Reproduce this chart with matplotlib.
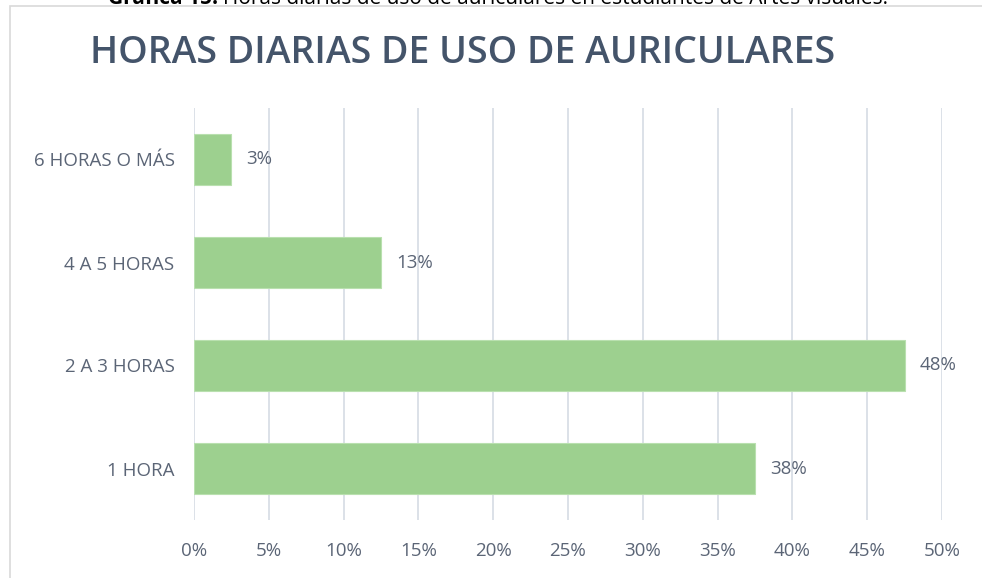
import matplotlib.pyplot as plt
from matplotlib.patches import Rectangle
from matplotlib.ticker import PercentFormatter

# Data (bottom to top)
categories = ["1 HORA", "2 A 3 HORAS", "4 A 5 HORAS", "6 HORAS O MÁS"]
values = [37.5, 47.5, 12.5, 2.5]
value_labels = ["38%", "48%", "13%", "3%"]
x_ticks = [0, 5, 10, 15, 20, 25, 30, 35, 40, 45, 50]

text_color = "#44546A"
label_color = "#5B6576"
bar_color = "#9DD08F"
grid_color = "#D6DCE4"

plt.rcParams["font.family"] = ["Open Sans", "DejaVu Sans"]

fig = plt.figure(figsize=(9.82, 5.78), dpi=100)
ax = fig.add_axes([194 / 982, 1 - 520 / 578, 748 / 982, 412 / 578])

# Chart frame
fig.patches.append(
    Rectangle((9.5 / 982, -0.01), 1.0, 1 - 6 / 578 + 0.01, transform=fig.transFigure,
              fill=False, edgecolor="#D9D9D9", linewidth=1.2, clip_on=False)
)

ax.barh(range(len(categories)), values, height=0.5, color=bar_color,
        edgecolor="#B9E0AF", linewidth=0.8, zorder=3)

for i, (v, lab) in enumerate(zip(values, value_labels)):
    ax.annotate(lab, (v, i), xytext=(11, 0), textcoords="offset points",
                va="center", ha="left", fontsize=13.5, color=label_color)

ax.set_xlim(0, 50)
ax.set_ylim(-0.5, len(categories) - 0.5)
ax.set_xticks(x_ticks)
ax.xaxis.set_major_formatter(PercentFormatter(decimals=0))
ax.set_yticks(range(len(categories)))
ax.set_yticklabels(categories)
ax.tick_params(axis="both", length=0, labelsize=13.5, labelcolor=label_color)
ax.tick_params(axis="y", pad=14)
ax.tick_params(axis="x", pad=16)
ax.grid(axis="x", color=grid_color, linewidth=1.2, zorder=0)
for s in ax.spines.values():
    s.set_visible(False)

# Title
fig.text(463 / 982, 1 - 53 / 578, "HORAS DIARIAS DE USO DE AURICULARES",
         ha="center", va="center", fontsize=27, fontweight="semibold",
         color=text_color)

# Caption, clipped by the top of the image
cap_y = 1 - 4.5 / 578
fig.canvas.draw()
t1 = fig.text(108 / 982, cap_y, "Gráfica 15.", ha="left", va="baseline",
              fontsize=15, fontweight="bold", color="black")
bb = t1.get_window_extent(fig.canvas.get_renderer())
fig.text((bb.x1 + 5) / 982, cap_y, "Horas diarias de uso de auriculares en estudiantes de Artes visuales.",
         ha="left", va="baseline", fontsize=15, color="black")

fig.savefig("out.png", dpi=100)
